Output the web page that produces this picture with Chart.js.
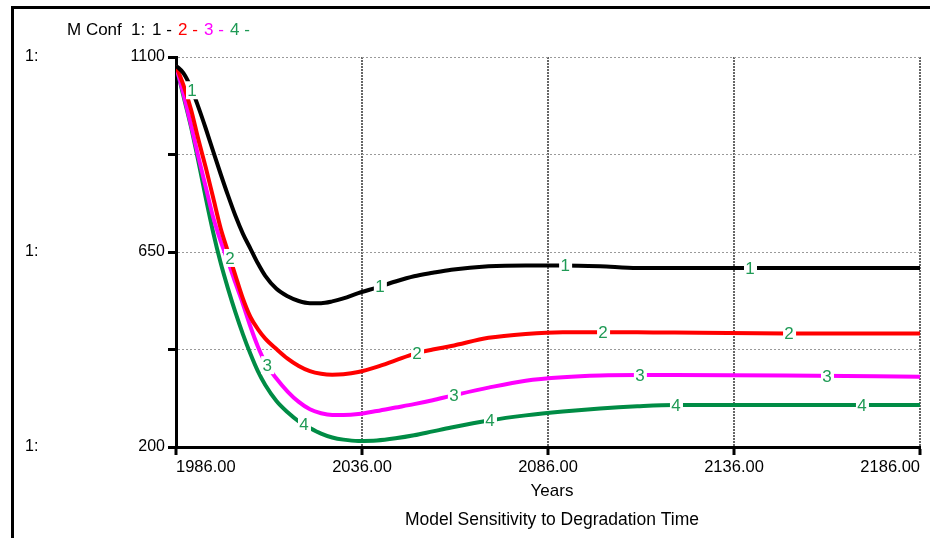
<!DOCTYPE html>
<html><head><meta charset="utf-8">
<script src="https://cdn.jsdelivr.net/npm/chart.js@4.4.0/dist/chart.umd.min.js"></script>
<style>html,body{margin:0;padding:0;background:#fff;overflow:hidden}#wrap{position:relative;width:930px;height:538px}</style>
</head><body><div id="wrap"><canvas id="c" width="930" height="538"></canvas></div>
<script>
const years = [1986,1988,1990,1992,1994,1996,1998,2000,2002,2004,2006,2008,2010,2013,2016,2019,2022,2025,2028,2031,2035,2040,2045,2050,2055,2060,2070,2080,2090,2100,2110,2120,2150,2186];
const run1 = [1080,1063,1030,985,935,882,830,780,733,692,658,624,595,565,548,537,532,532,536,543,555,568,582,594,602,609,617,619,619,617,613,613,613,613];
const run2 = [1080,1035,980,910,845,775,705,650,595,542,500,472,450,426,404,387,375,369,367,368,373,385,400,415,425,433,452,461,465,465,465,464,462,462];
const run3 = [1080,1015,945,870,800,730,675,628,578,530,478,432,395,358,328,304,287,278,274,274,276,283,291,299,308,318,337,353,361,365,366,366,365,362];
const run4 = [1080,1010,940,860,775,695,625,565,510,460,415,375,343,306,280,259,244,231,222,217,214,215,220,227,236,245,261,273,282,289,294,297,297,297];
const seriesNames = ['1','2','3','4'];
const seriesColors = ['#000000','#ff0000','#ff00ff','#008c45'];
const labelYears = [[1990.3,2040.8,2090.6,2140.3],[2000.5,2050.8,2100.8,2150.8],[2010.5,2060.7,2110.7,2161],[2020.4,2070.4,2120.4,2170.4]];
const xTicks = [1986,2036,2086,2136,2186];
const yTicks = [200,425,650,875,1100];
const yLabeled = [200,650,1100];
const runs = [run1,run2,run3,run4];
const FONT = '"Liberation Sans", Arial, Helvetica, sans-serif';

function interp(arr, yr){
  for(let i=0;i<years.length-1;i++){
    if(yr>=years[i] && yr<=years[i+1]){
      const t=(yr-years[i])/(years[i+1]-years[i]);
      return arr[i]+t*(arr[i+1]-arr[i]);
    }
  }
  return arr[arr.length-1];
}

const deco = {
  id:'deco',
  beforeDraw(chart){
    const ctx=chart.ctx; ctx.save();
    ctx.fillStyle='#fff'; ctx.fillRect(0,0,chart.width,chart.height);
    ctx.fillStyle='#000';
    ctx.fillRect(11,6,chart.width-11,3);
    ctx.fillRect(11,6,3,chart.height-6);
    ctx.restore();
  },
  afterDatasetsDraw(chart){
    const ctx=chart.ctx, xs=chart.scales.x, ys=chart.scales.y;
    ctx.save();
    ctx.font='17px '+FONT; ctx.textAlign='center'; ctx.textBaseline='middle';
    runs.forEach((arr,i)=>{
      labelYears[i].forEach(ly=>{
        const px=xs.getPixelForValue(ly), py=ys.getPixelForValue(interp(arr,ly));
        ctx.fillStyle='#fff'; ctx.fillRect(px-6,py-9,13,18);
        ctx.fillStyle='#1f9a55'; ctx.fillText(seriesNames[i],px,py+1);
      });
    });
    ctx.restore();
  },
  afterDraw(chart){
    const ctx=chart.ctx, ys=chart.scales.y, ca=chart.chartArea;
    ctx.save();
    ctx.textBaseline='middle'; ctx.textAlign='left';
    ctx.font='17px '+FONT; ctx.fillStyle='#000';
    ctx.fillText('M Conf',67,30);
    ctx.fillText('1:',131,30);
    const lx=[152,178,204,230];
    seriesNames.forEach((n,i)=>{ ctx.fillStyle=i===0?'#000':(i===3?'#1f9a55':seriesColors[i]); ctx.fillText(n+' -',lx[i],30); });
    ctx.font='16px '+FONT; ctx.fillStyle='#000';
    yLabeled.forEach(v=>ctx.fillText('1:',25,ys.getPixelForValue(v)));
    ctx.textAlign='center';
    const cx=(ca.left+ca.right)/2+4;
    ctx.font='17px '+FONT;
    ctx.fillText('Years',cx,491);
    ctx.font='17.5px '+FONT;
    ctx.fillText('Model Sensitivity to Degradation Time',cx,520);
    ctx.restore();
  }
};

new Chart(document.getElementById('c'),{
  type:'line',
  data:{datasets: runs.map((arr,i)=>({
    label:seriesNames[i],
    data: years.map((yr,j)=>({x:yr,y:arr[j]})),
    borderColor:seriesColors[i], backgroundColor:seriesColors[i],
    borderWidth:4, pointRadius:0, fill:false, cubicInterpolationMode:'monotone'
  }))},
  options:{
    responsive:false, animation:false,
    layout:{padding:{top:57,right:10,left:0,bottom:0}},
    plugins:{legend:{display:false},tooltip:{enabled:false},title:{display:false}},
    scales:{
      x:{type:'linear',min:1986,max:2186,
        afterBuildTicks:s=>{s.ticks=xTicks.map(v=>({value:v}));},
        afterFit:s=>{s.height=91;},
        ticks:{align:'inner',padding:3,color:'#000',maxRotation:0,autoSkip:false,
          font:{family:FONT,size:16.5},callback:v=>Number(v).toFixed(2)},
        grid:{color:'#666666',lineWidth:2,tickColor:'#000',tickWidth:3,tickLength:8,tickBorderDash:[]},
        border:{color:'#000',width:3,dash:[2,1]}
      },
      y:{min:200,max:1100,
        afterBuildTicks:s=>{s.ticks=yTicks.map(v=>({value:v}));},
        afterFit:s=>{s.width=176;},
        ticks:{padding:3,color:'#000',font:{family:FONT,size:16},
          callback:v=>yLabeled.includes(v)?String(v):''},
        grid:{color:'#9a9a9a',lineWidth:1,tickColor:'#000',tickWidth:3,tickLength:8,tickBorderDash:[]},
        border:{color:'#000',width:3,dash:[2,2]}
      }
    }
  },
  plugins:[deco]
});
</script></body></html>
